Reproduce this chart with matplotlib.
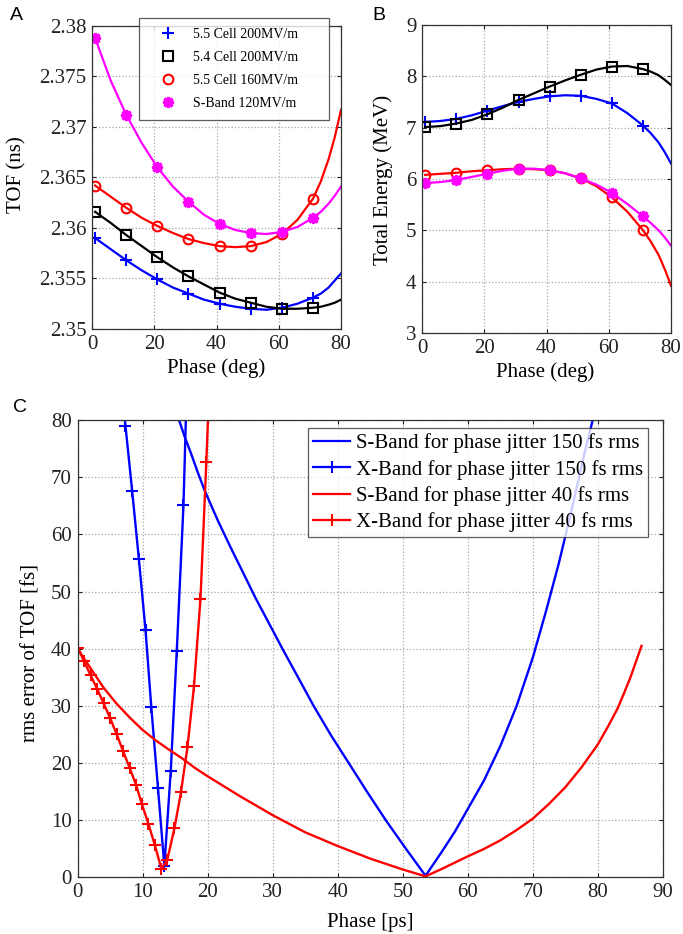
import matplotlib
matplotlib.use("Agg")
import matplotlib.pyplot as plt
from matplotlib.lines import Line2D
from matplotlib.ticker import FuncFormatter

plt.rcParams["font.family"] = ["Liberation Serif", "DejaVu Serif"]

# ---- panel A / B: phase scan (markers every 10 deg, curve points in between)
phase = [1, 6, 11, 16, 21, 26, 31, 36, 41, 46, 51, 56, 61, 66, 71, 73.5, 76, 78, 80]
marker_idx = [0, 2, 4, 6, 8, 10, 12, 14]

tof_55_200 = [2.3590, 2.3579, 2.3568, 2.3558, 2.3549, 2.3541, 2.3535, 2.3529, 2.3525,
              2.3522, 2.3520, 2.3519, 2.3521, 2.3525, 2.3531, 2.3535, 2.3541, 2.3548, 2.3555]
tof_54_200 = [2.3616, 2.3605, 2.3593, 2.3582, 2.3571, 2.3561, 2.3552, 2.3544, 2.3536,
              2.3530, 2.3526, 2.3522, 2.3520, 2.3520, 2.3521, 2.3522, 2.3524, 2.3526, 2.3529]
tof_55_160 = [2.3642, 2.3631, 2.3620, 2.3610, 2.3602, 2.3595, 2.3589, 2.3585, 2.3582,
              2.3581, 2.3582, 2.3586, 2.3594, 2.3608, 2.3629, 2.3646, 2.3668, 2.3690, 2.3717]
tof_sband = [2.3788, 2.3746, 2.3712, 2.3684, 2.3660, 2.3641, 2.3626, 2.3613, 2.3604,
             2.3598, 2.3595, 2.3594, 2.3596, 2.3601, 2.3610, 2.3616, 2.3624, 2.3632, 2.3641]

en_55_200 = [7.11, 7.13, 7.17, 7.24, 7.33, 7.42, 7.50, 7.56, 7.61,
             7.63, 7.62, 7.56, 7.47, 7.28, 7.04, 6.89, 6.71, 6.52, 6.30]
en_54_200 = [7.01, 7.03, 7.08, 7.15, 7.26, 7.39, 7.54, 7.67, 7.80,
             7.92, 8.03, 8.13, 8.19, 8.20, 8.14, 8.09, 8.02, 7.93, 7.83]
en_55_160 = [6.08, 6.10, 6.12, 6.15, 6.17, 6.19, 6.20, 6.19, 6.17,
             6.11, 6.01, 5.86, 5.64, 5.36, 5.00, 4.78, 4.52, 4.24, 3.92]
en_sband = [5.92, 5.94, 5.98, 6.04, 6.10, 6.16, 6.20, 6.20, 6.17,
            6.11, 6.01, 5.89, 5.73, 5.51, 5.27, 5.14, 5.00, 4.86, 4.70]

a_labels = ["5.5 Cell 200MV/m", "5.4 Cell 200MV/m", "5.5 Cell 160MV/m", "S-Band 120MV/m"]

# ---- panel C: rms error of TOF vs phase
sband150_x = [15.6, 16.5, 17.5, 18.5, 19.5, 21.5, 23.5, 25.5, 27.4, 29.5, 31.5, 34.0,
              36.3, 39.0, 41.7, 44.5, 47.4, 50.5, 53.5,
              56.0, 58.0, 60.0, 62.5, 65.0, 67.5, 70.0, 72.0, 74.0, 76.0, 78.0, 79.2]
sband150_y = [80.0, 77.0, 74.0, 70.8, 67.8, 62.6, 57.8, 53.2, 48.8, 44.3, 40.0, 34.8,
              30.0, 24.8, 20.0, 15.0, 10.0, 5.0, 0.3,
              4.5, 8.0, 12.0, 17.0, 23.0, 30.0, 38.5, 46.5, 55.0, 64.5, 74.5, 80.0]

xband150_x = [7.28, 7.37, 8.40, 9.43, 10.46, 11.34, 12.37, 13.35, 14.33, 15.26, 16.29, 16.65]
xband150_y = [80.0, 79.0, 67.6, 55.7, 43.2, 29.8, 15.6, 2.0, 18.6, 39.6, 65.2, 80.0]

sband40_x = [0, 2, 4, 6, 8, 10, 12, 14, 16, 18, 20, 22, 25, 30, 35, 40, 45, 50, 53.5,
             56, 60, 62.5, 65, 67.5, 70, 72.5, 75, 77.5, 80, 81.5, 83, 84, 85, 86.7]
sband40_y = [40.0, 36.6, 33.2, 30.4, 28.0, 25.8, 24.0, 22.4, 20.9, 19.2, 17.7, 16.3, 14.2,
             10.9, 7.9, 5.5, 3.3, 1.4, 0.2,
             1.5, 3.7, 5.0, 6.5, 8.3, 10.3, 12.9, 15.8, 19.3, 23.3, 26.3, 29.5, 32.2, 35.0, 40.5]

xband40_x = [0.1, 1.0, 2.0, 3.0, 4.0, 5.0, 6.0, 7.0, 8.0, 9.0, 9.9, 10.9, 11.9, 12.9,
             13.8, 14.9, 15.9, 16.9, 17.9, 18.9, 19.8, 20.05]
xband40_y = [40.1, 37.8, 35.4, 33.0, 30.5, 27.9, 25.1, 22.1, 19.2, 16.2, 12.8, 9.4, 5.6, 1.5,
             3.1, 8.6, 14.9, 22.8, 33.4, 48.7, 72.6, 80.0]

c_labels = ["S-Band for phase jitter 150 fs rms", "X-Band for phase jitter 150 fs rms",
            "S-Band for phase jitter 40 fs rms", "X-Band for phase jitter 40 fs rms"]

BLUE, RED, MAG = "#0000ff", "#ff0000", "#ff00ff"
STYLES = [
    dict(color=BLUE, marker="+", ms=8, mew=1.5, mfc="none"),
    dict(color="black", marker="s", ms=6.5, mew=1.5, mfc="none"),
    dict(color=RED, marker="o", ms=7, mew=1.5, mfc="none"),
    dict(color=MAG, marker=(8, 2, 0), ms=8, mew=2.2, mfc=MAG),
]


def style_axes(ax):
    ax.grid(True, linestyle=":", color="#a8a8a8", linewidth=0.9)
    ax.tick_params(direction="in", length=3, top=True, right=True,
                   labelsize=15, pad=4, colors="#222222")
    for s in ax.spines.values():
        s.set_linewidth(0.9)
        s.set_color("#333333")
    ax.set_axisbelow(True)


fig = plt.figure(figsize=(6.83, 9.34), dpi=100)

# ---------------- A
axA = fig.add_axes([0.1347, 0.6478, 0.3646, 0.3244])
for ys, st in zip([tof_55_200, tof_54_200, tof_55_160, tof_sband], STYLES):
    axA.plot(phase, ys, lw=1.6, markevery=marker_idx, **st)
axA.set_xlim(0, 80)
axA.set_ylim(2.35, 2.38)
axA.set_xticks([0, 20, 40, 60, 80])
axA.set_yticks([2.35, 2.355, 2.36, 2.365, 2.37, 2.375, 2.38])
axA.yaxis.set_major_formatter(FuncFormatter(lambda v, p: f"{v:g}"))
style_axes(axA)
axA.set_xlabel("Phase (deg)", fontsize=15, va="center")
axA.set_ylabel("TOF (ns)", fontsize=15, va="center")
axA.xaxis.set_label_coords(0.498, -0.129)
axA.yaxis.set_label_coords(-0.301, 0.508)
handles = [Line2D([], [], linestyle="none", **st) for st in STYLES]
legA = axA.legend(handles, a_labels, loc="upper left", mode="expand",
                  bbox_to_anchor=(0.189, 0.706, 0.763, 0.32), borderaxespad=0,
                  fontsize=10, frameon=True, fancybox=False, borderpad=0.7,
                  handlelength=2.8, handletextpad=0.35, labelspacing=0.72)
legA.get_frame().set_edgecolor("#333333")
legA.get_frame().set_linewidth(0.9)

# ---------------- B
axB = fig.add_axes([0.6179, 0.6435, 0.3646, 0.3298])
for ys, st in zip([en_55_200, en_54_200, en_55_160, en_sband], STYLES):
    axB.plot(phase, ys, lw=1.6, markevery=marker_idx, **st)
axB.set_xlim(0, 80)
axB.set_ylim(3, 9)
axB.set_xticks([0, 20, 40, 60, 80])
axB.set_yticks([3, 4, 5, 6, 7, 8, 9])
style_axes(axB)
axB.set_xlabel("Phase (deg)", fontsize=15, va="center")
axB.set_ylabel("Total Energy (MeV)", fontsize=15, va="center")
axB.xaxis.set_label_coords(0.494, -0.127)
axB.yaxis.set_label_coords(-0.157, 0.497)

# ---------------- C
axC = fig.add_axes([0.1135, 0.0605, 0.8572, 0.4898])
axC.plot(sband150_x, sband150_y, color=BLUE, lw=1.7)
axC.plot(xband150_x, xband150_y, color=BLUE, lw=1.7, marker="+", ms=9, mew=1.5,
         markevery=list(range(1, len(xband150_x) - 1)))
axC.plot(sband40_x, sband40_y, color=RED, lw=1.7)
axC.plot(xband40_x, xband40_y, color=RED, lw=1.7, marker="+", ms=9, mew=1.5,
         markevery=list(range(0, len(xband40_x) - 1)))
axC.set_xlim(0, 90)
axC.set_ylim(0, 80)
axC.set_xticks(range(0, 91, 10))
axC.set_yticks(range(0, 81, 10))
style_axes(axC)
axC.set_xlabel("Phase [ps]", fontsize=15, va="center")
axC.set_ylabel("rms error of TOF [fs]", fontsize=15, va="center")
axC.xaxis.set_label_coords(0.4996, -0.099)
axC.yaxis.set_label_coords(-0.079, 0.49)
hC = [Line2D([], [], color=BLUE, lw=1.6),
      Line2D([], [], color=BLUE, lw=1.6, marker="+", ms=9, mew=1.5, markevery=[1]),
      Line2D([], [], color=RED, lw=1.6),
      Line2D([], [], color=RED, lw=1.6, marker="+", ms=9, mew=1.5, markevery=[1])]
legC = axC.legend(hC, c_labels, loc="upper left", bbox_to_anchor=(0.3937, 0.9825),
                  borderaxespad=0, fontsize=15, frameon=True, fancybox=False,
                  borderpad=0.25, handlelength=1.78, handletextpad=0.25,
                  labelspacing=0.31, numpoints=1)
legC.get_frame().set_edgecolor("#333333")
legC.get_frame().set_linewidth(0.9)

# panel letters
for letter, (px, py) in zip("ABC", [(16, 15), (379, 15), (20, 408)]):
    fig.text(px / 683, 1 - py / 934, letter, fontsize=14, family="Liberation Sans",
             ha="center", va="center")

fig.savefig("out.png", dpi=100, facecolor="white")
